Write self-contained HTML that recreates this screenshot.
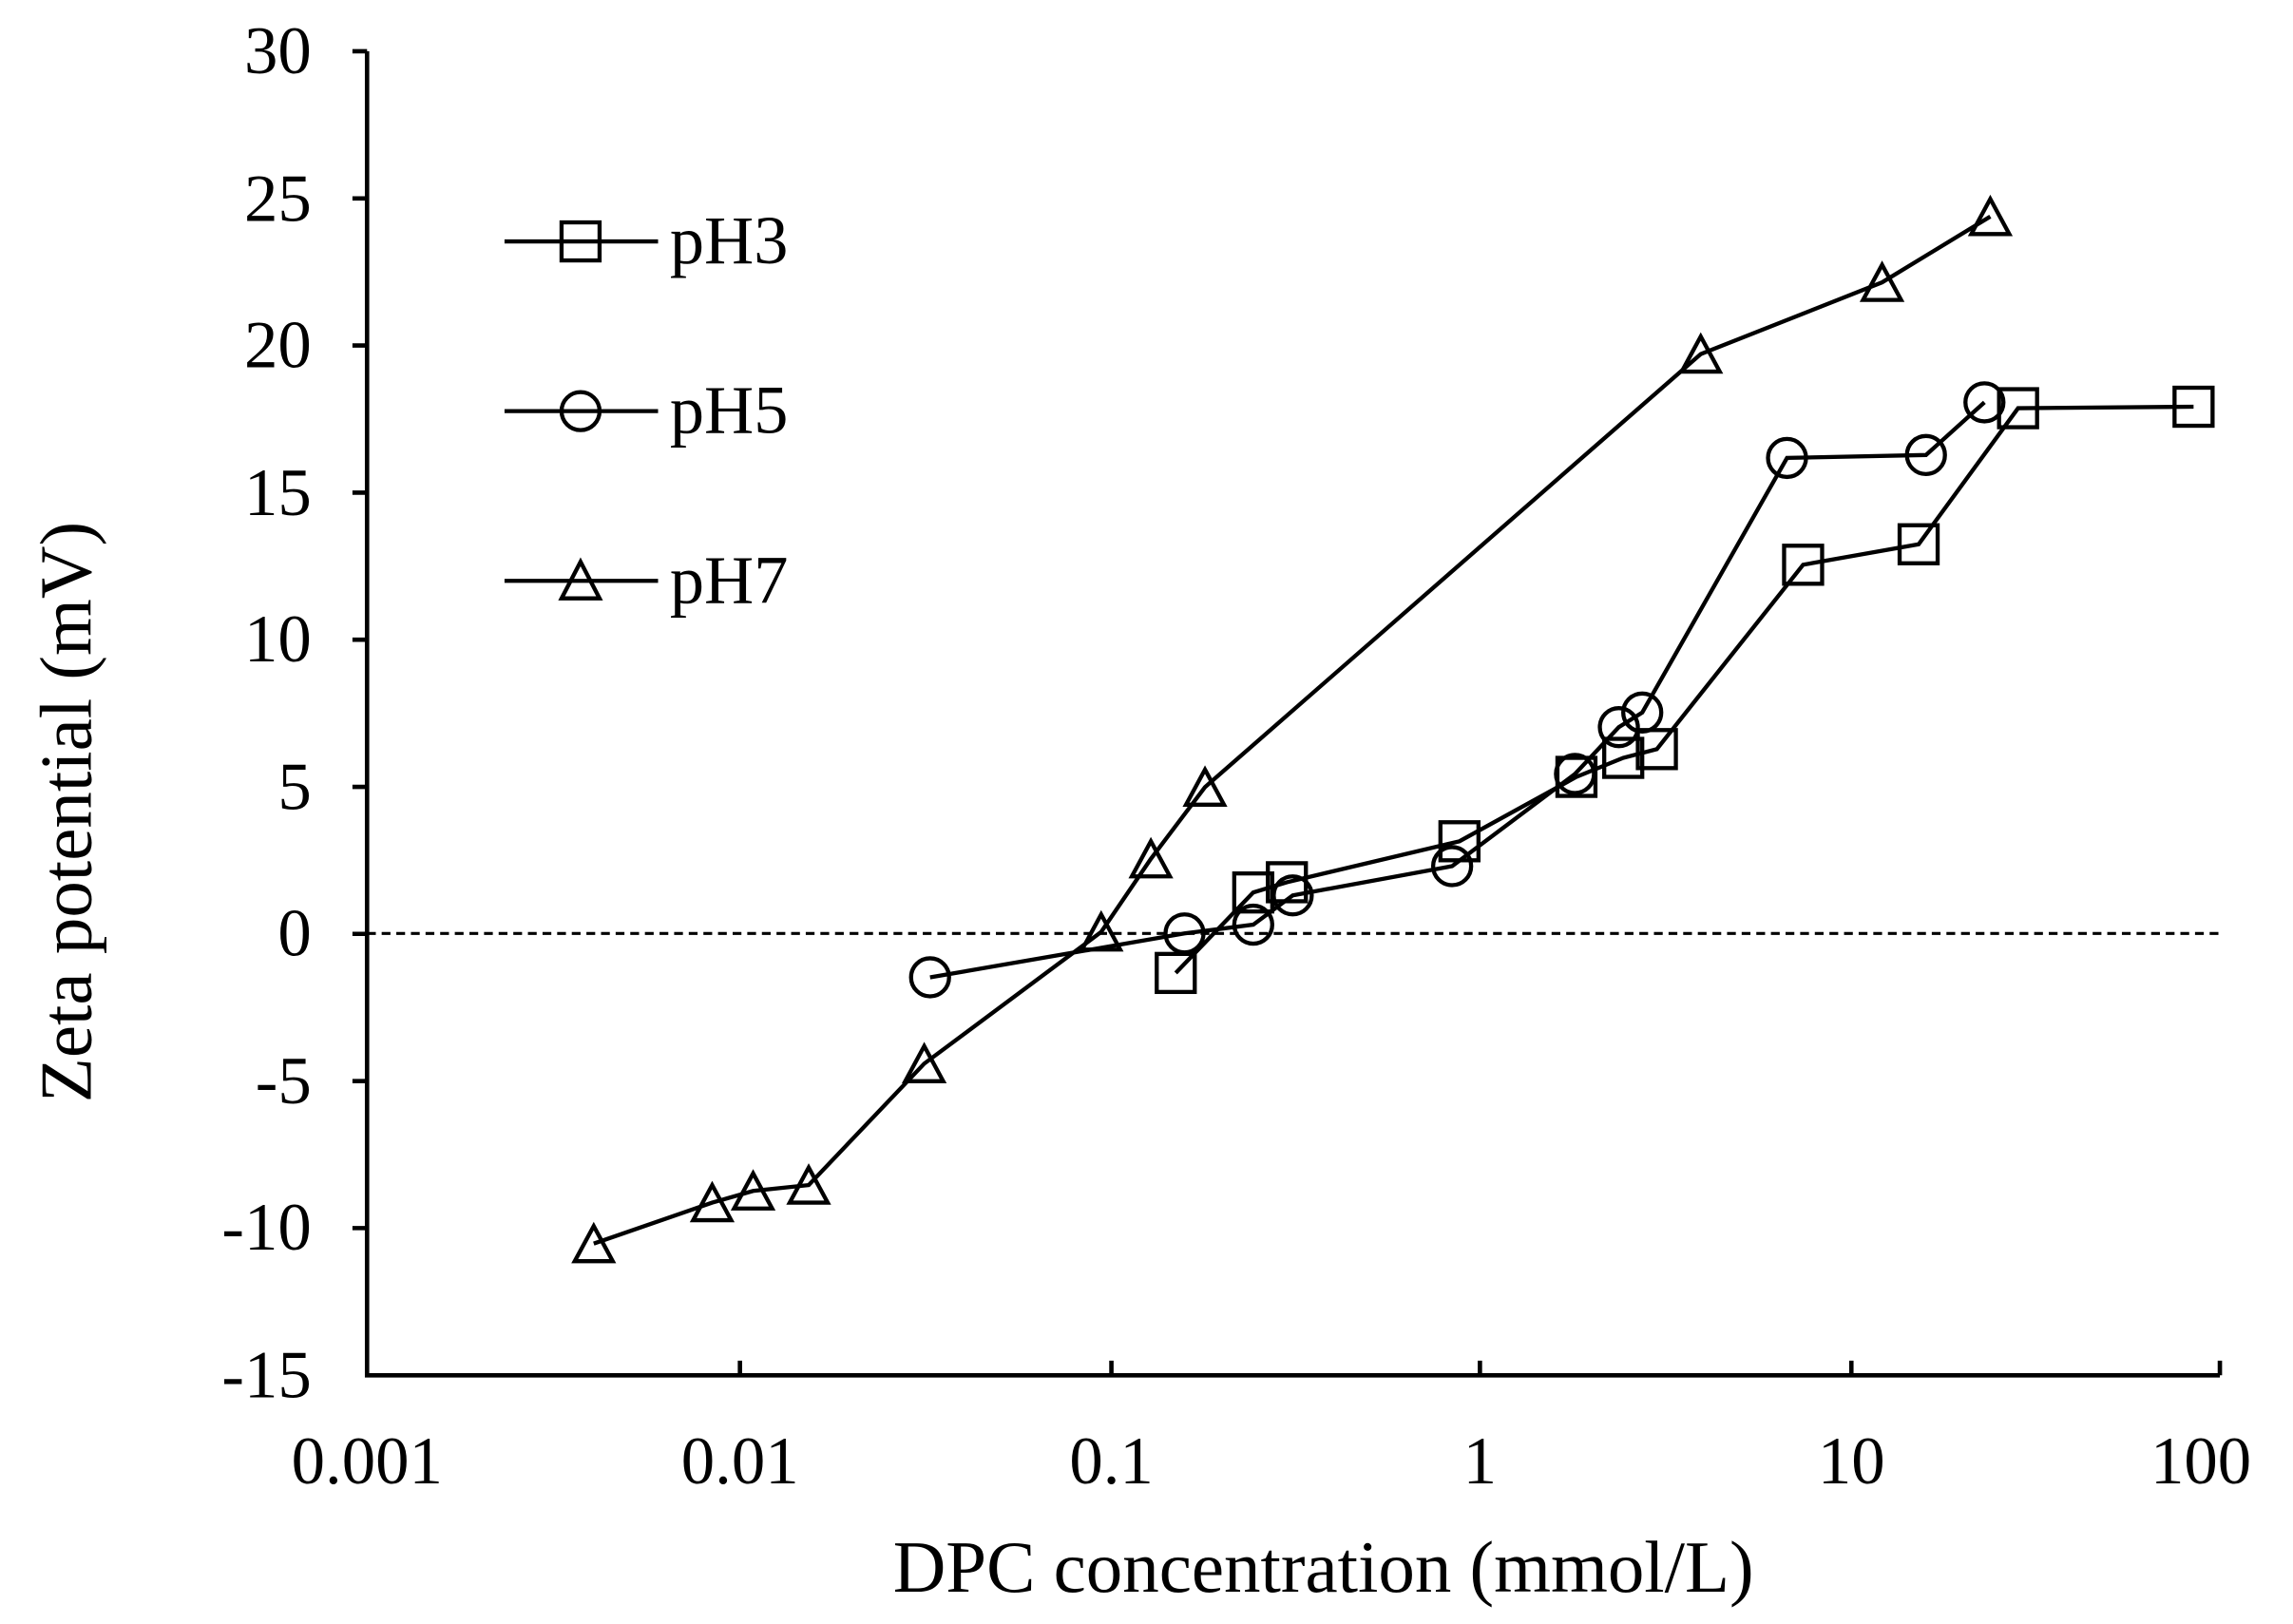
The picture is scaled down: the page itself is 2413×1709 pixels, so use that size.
<!DOCTYPE html>
<html><head><style>html,body{margin:0;padding:0;background:#fff}svg{display:block}</style></head>
<body>
<svg width="2413" height="1709" viewBox="0 0 1568 1110" preserveAspectRatio="none" xmlns="http://www.w3.org/2000/svg" font-family="Liberation Serif, serif" font-size="46">
<rect width="1568" height="1110" fill="#fff"/>
<g stroke="#000" stroke-width="3" fill="none">
<path d="M251,35 V940 H1518"/>
<path d="M241,35H251M241,135.6H251M241,236.1H251M241,336.7H251M241,437.2H251M241,537.8H251M241,638.3H251M241,738.9H251M241,839.4H251"/>
<path d="M506,940V930M760,940V930M1012,940V930M1266,940V930M1518,940V930"/>
</g>
<line x1="251" y1="638" x2="1518" y2="638" stroke="#000" stroke-width="2" stroke-dasharray="6,4"/>
<g text-anchor="end">
<text x="213" y="50">30</text><text x="213" y="151">25</text><text x="213" y="251">20</text><text x="213" y="352">15</text><text x="213" y="452">10</text><text x="213" y="553">5</text><text x="213" y="653">0</text><text x="213" y="754">-5</text><text x="213" y="854">-10</text><text x="213" y="955">-15</text>
</g>
<g text-anchor="middle">
<text x="251" y="1014">0.001</text><text x="506" y="1014">0.01</text><text x="760" y="1014">0.1</text><text x="1012" y="1014">1</text><text x="1266" y="1014">10</text><text x="1505" y="1014">100</text>
<text x="905" y="1088" font-size="50">DPC concentration (mmol/L)</text>
<text transform="translate(62,555) rotate(-90)" font-size="50">Zeta potential (mV)</text>
</g>
<g stroke="#000" stroke-width="2.8" fill="none">
<polyline points="804,665 857,610 880,603 998,575 1078,531 1110,518 1133,512 1233,386 1312,372 1380,279 1500,278"/>
<polyline points="636,668 810,638 857,632 884,612 993,592 1077,529 1107,497 1123,487 1222,313 1317,311 1357,275"/>
<polyline points="406,850 487,822 515,814 553,810 632,727 753,637 787,587 824,538 1163,242 1287,193 1361,148"/>
<path d="M345,165H450M345,281H450M345,397H450"/>
</g>
<g stroke="#000" stroke-width="2.8" fill="none">
<rect x="384" y="152" width="26" height="26"/>
<circle cx="397" cy="281" r="13"/>
<polygon points="397,384 410,409 384,409"/>
</g>
<g stroke="#000" stroke-width="2.8" fill="none">
<rect x="791" y="652" width="26" height="26"/><rect x="844" y="597" width="26" height="26"/><rect x="867" y="590" width="26" height="26"/><rect x="985" y="562" width="26" height="26"/><rect x="1065" y="518" width="26" height="26"/><rect x="1097" y="505" width="26" height="26"/><rect x="1120" y="499" width="26" height="26"/><rect x="1220" y="373" width="26" height="26"/><rect x="1299" y="359" width="26" height="26"/><rect x="1367" y="266" width="26" height="26"/><rect x="1487" y="265" width="26" height="26"/>
<circle cx="636" cy="668" r="13"/><circle cx="810" cy="638" r="13"/><circle cx="857" cy="632" r="13"/><circle cx="884" cy="612" r="13"/><circle cx="993" cy="592" r="13"/><circle cx="1077" cy="529" r="13"/><circle cx="1107" cy="497" r="13"/><circle cx="1123" cy="487" r="13"/><circle cx="1222" cy="313" r="13"/><circle cx="1317" cy="311" r="13"/><circle cx="1357" cy="275" r="13"/>
</g>
<g stroke="#000" stroke-width="2.8" fill="none">
<polygon points="406,838 419,862 393,862"/><polygon points="487,810 500,834 474,834"/><polygon points="515,802 528,826 502,826"/><polygon points="553,798 566,822 540,822"/><polygon points="632,715 645,739 619,739"/><polygon points="753,625 766,649 740,649"/><polygon points="787,575 800,599 774,599"/><polygon points="824,526 837,550 811,550"/><polygon points="1163,230 1176,254 1150,254"/><polygon points="1287,181 1300,205 1274,205"/><polygon points="1361,136 1374,160 1348,160"/>
</g>
<g font-size="47">
<text x="458" y="180">pH3</text><text x="458" y="296">pH5</text><text x="458" y="412">pH7</text>
</g>
</svg>
</body></html>
